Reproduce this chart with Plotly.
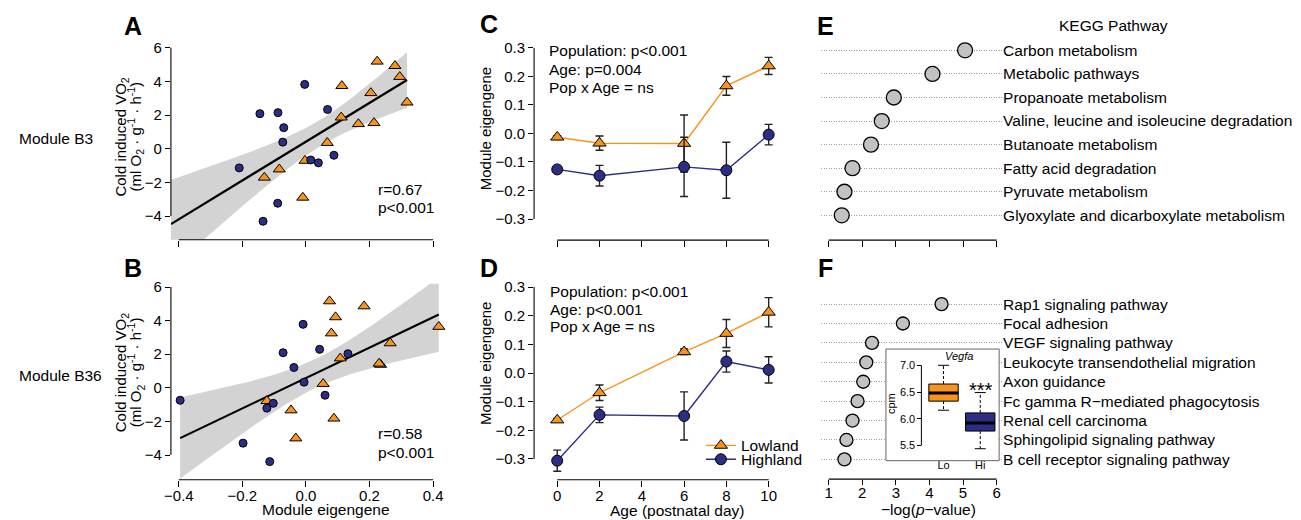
import numpy as np
import plotly.graph_objects as go

W, H = 1301, 520
OFF = 8  # the page body margin offsets the figure; positions below are page pixels
FONT = "Liberation Sans, Arial, Helvetica, sans-serif"
ORANGE = "#F7941D"
NAVY = "#2B2E83"
BAND = "#D3D3D3"
DOTFILL = "#C2C2C2"

# ---------------- Panel A (Module B3) ----------------
a_high_x = [-0.210, -0.145, -0.088, -0.070, -0.073, -0.004, 0.068, 0.015, 0.039, 0.088, -0.089, -0.135]
a_high_y = [-1.14, 2.08, 2.14, 1.25, 0.39, 3.82, 2.33, -0.67, -0.84, -0.39, -3.24, -4.31]
a_low_x = [0.224, 0.280, 0.295, 0.113, 0.204, 0.318, 0.111, 0.165, 0.214, 0.067, -0.003, -0.084, -0.131, -0.010]
a_low_y = [5.18, 4.92, 4.27, 3.73, 3.31, 2.75, 1.86, 1.47, 1.53, 0.35, -0.71, -1.22, -1.71, -2.90]
a_stats = ["r=0.67", "p&lt;0.001"]

# ---------------- Panel B (Module B36) ----------------
b_high_x = [-0.396, -0.009, -0.072, 0.043, -0.038, 0.132, -0.006, 0.060, -0.123, -0.103, -0.198, -0.114]
b_high_y = [-0.74, 3.78, 2.09, 2.29, 1.21, 2.03, 0.34, -0.44, -1.21, -0.92, -3.29, -4.39]
b_low_x = [0.074, 0.183, 0.093, 0.080, 0.108, 0.265, 0.235, 0.230, 0.418, 0.054, -0.123, -0.047, -0.032, 0.088]
b_low_y = [5.16, 4.86, 4.21, 3.25, 1.76, 2.66, 1.38, 1.45, 3.64, 0.24, -0.78, -1.33, -3.00, -1.82]
b_stats = ["r=0.58", "p&lt;0.001"]

scatter_xticks = [-0.4, -0.2, 0.0, 0.2, 0.4]
scatter_yticks = [-4, -2, 0, 2, 4, 6]
scatter_xrange = [-0.425, 0.425]

# ---------------- Panels C / D (module eigengene by age) ----------------
ages = [0, 2, 6, 8, 10]
age_ticks = [0, 2, 4, 6, 8, 10]
me_yticks = [-0.3, -0.2, -0.1, 0.0, 0.1, 0.2, 0.3]
c_low_mean = [-0.013, -0.034, -0.035, 0.167, 0.237]
c_low_err = [0.005, 0.025, 0.100, 0.033, 0.030]
c_high_mean = [-0.126, -0.148, -0.117, -0.129, -0.004]
c_high_err = [0.005, 0.036, 0.104, 0.098, 0.036]
c_stats = ["Population: p&lt;0.001", "Age: p=0.004", "Pop x Age = ns"]
d_low_mean = [-0.164, -0.069, 0.074, 0.138, 0.212]
d_low_err = [0.005, 0.027, 0.010, 0.049, 0.051]
d_high_mean = [-0.306, -0.146, -0.150, 0.040, 0.011]
d_high_err = [0.037, 0.027, 0.084, 0.037, 0.046]
d_stats = ["Population: p&lt;0.001", "Age: p&lt;0.001", "Pop x Age = ns"]

# ---------------- Panels E / F (KEGG enrichment) ----------------
kegg_e = ["Carbon metabolism", "Metabolic pathways", "Propanoate metabolism",
          "Valine, leucine and isoleucine degradation", "Butanoate metabolism",
          "Fatty acid degradation", "Pyruvate metabolism",
          "Glyoxylate and dicarboxylate metabolism"]
kegg_e_val = [5.06, 4.09, 2.94, 2.58, 2.26, 1.71, 1.47, 1.39]
kegg_f = ["Rap1 signaling pathway", "Focal adhesion", "VEGF signaling pathway",
          "Leukocyte transendothelial migration", "Axon guidance",
          "Fc gamma R\u2212mediated phagocytosis", "Renal cell carcinoma",
          "Sphingolipid signaling pathway", "B cell receptor signaling pathway"]
kegg_f_val = [4.36, 3.21, 2.29, 2.12, 2.03, 1.86, 1.71, 1.53, 1.47]
logp_ticks = [1, 2, 3, 4, 5, 6]
logp_range = [0.784, 6.163]

# ---------------- Inset (Vegfa boxplot) ----------------
vegfa_groups = ["Lo", "Hi"]
vegfa_min = [6.16, 5.44]
vegfa_q1 = [6.33, 5.77]
vegfa_med = [6.48, 5.92]
vegfa_q3 = [6.65, 6.11]
vegfa_max = [7.00, 6.49]
vegfa_colors = [ORANGE, NAVY]
cpm_ticks = [5.5, 6.0, 6.5, 7.0]


def fx(p):
    return (p - OFF) / W


def fy(p):
    return 1 - (p - OFF) / H


def px_x(a, b):
    return [fx(a), fx(b)]


def px_y(top, bottom):
    return [fy(bottom), fy(top)]


def fit_band(x, y, x0, x1):
    x = np.asarray(x, float)
    y = np.asarray(y, float)
    n = len(x)
    slope, icpt = np.polyfit(x, y, 1)
    xs = np.linspace(x0, x1, 100)
    yh = icpt + slope * xs
    resid = y - (icpt + slope * x)
    s = np.sqrt(np.sum(resid ** 2) / (n - 2))
    sxx = np.sum((x - x.mean()) ** 2)
    se = s * np.sqrt(1.0 / n + (xs - x.mean()) ** 2 / sxx)
    t = 2.0639  # t(0.975, df=24)
    return xs, yh, yh - t * se, yh + t * se


fig = go.Figure()


def add_scatter_panel(hx, hy, lx, ly, line_from, line_to, xa, ya):
    allx = list(hx) + list(lx)
    ally = list(hy) + list(ly)
    xs, yh, lo, hi = fit_band(allx, ally, line_from, line_to)
    fig.add_trace(go.Scatter(x=np.concatenate([xs, xs[::-1]]), y=np.concatenate([hi, lo[::-1]]),
                             fill="toself", fillcolor=BAND, line=dict(width=0), mode="lines",
                             hoverinfo="skip", showlegend=False, xaxis=xa, yaxis=ya))
    fig.add_trace(go.Scatter(x=xs, y=yh, mode="lines", line=dict(color="black", width=2.2),
                             showlegend=False, xaxis=xa, yaxis=ya))
    fig.add_trace(go.Scatter(x=lx, y=ly, mode="markers",
                             marker=dict(symbol="triangle-up", size=10.5, color=ORANGE,
                                         line=dict(color="black", width=1)),
                             showlegend=False, xaxis=xa, yaxis=ya, cliponaxis=False))
    fig.add_trace(go.Scatter(x=hx, y=hy, mode="markers",
                             marker=dict(symbol="circle", size=8, color=NAVY,
                                         line=dict(color="black", width=1)),
                             showlegend=False, xaxis=xa, yaxis=ya, cliponaxis=False))


all_a_x = a_high_x + a_low_x
all_b_x = b_high_x + b_low_x
add_scatter_panel(a_high_x, a_high_y, a_low_x, a_low_y, scatter_xrange[0], max(all_a_x), "x", "y")
add_scatter_panel(b_high_x, b_high_y, b_low_x, b_low_y, min(all_b_x), max(all_b_x), "x2", "y2")


def add_age_panel(lm, le, hm, he, xa, ya, legend_on):
    fig.add_trace(go.Scatter(x=ages, y=lm, mode="lines+markers", name="Lowland",
                             line=dict(color=ORANGE, width=1.4),
                             marker=dict(symbol="triangle-up", size=11.5, color=ORANGE,
                                         line=dict(color="black", width=1)),
                             error_y=dict(type="data", array=le, color="#222222", thickness=1.4, width=4),
                             showlegend=legend_on, legend="legend", xaxis=xa, yaxis=ya, cliponaxis=False))
    fig.add_trace(go.Scatter(x=ages, y=hm, mode="lines+markers", name="Highland",
                             line=dict(color=NAVY, width=1.4),
                             marker=dict(symbol="circle", size=11, color=NAVY,
                                         line=dict(color="black", width=1)),
                             error_y=dict(type="data", array=he, color="#222222", thickness=1.4, width=4),
                             showlegend=legend_on, legend="legend2", xaxis=xa, yaxis=ya, cliponaxis=False))


add_age_panel(c_low_mean, c_low_err, c_high_mean, c_high_err, "x3", "y3", False)
add_age_panel(d_low_mean, d_low_err, d_high_mean, d_high_err, "x4", "y4", True)

for names, vals, xa, ya, msize in [(kegg_e, kegg_e_val, "x5", "y5", 15), (kegg_f, kegg_f_val, "x6", "y6", 13)]:
    fig.add_trace(go.Scatter(x=vals, y=names, mode="markers",
                             marker=dict(size=msize, color=DOTFILL, line=dict(color="black", width=1.3)),
                             showlegend=False, xaxis=xa, yaxis=ya, cliponaxis=False))

# inset boxplot drawn from the summary statistics
for i, g in enumerate(vegfa_groups):
    pos = i + 1
    hw, cw = 0.4, 0.15
    fig.add_trace(go.Scatter(x=[pos, pos, None, pos, pos],
                             y=[vegfa_q3[i], vegfa_max[i], None, vegfa_q1[i], vegfa_min[i]],
                             mode="lines", line=dict(color="black", width=1, dash="3px,2px"),
                             showlegend=False, xaxis="x7", yaxis="y7"))
    fig.add_trace(go.Scatter(x=[pos - cw, pos + cw, None, pos - cw, pos + cw],
                             y=[vegfa_max[i], vegfa_max[i], None, vegfa_min[i], vegfa_min[i]],
                             mode="lines", line=dict(color="black", width=1),
                             showlegend=False, xaxis="x7", yaxis="y7"))
    fig.add_trace(go.Scatter(x=[pos - hw, pos + hw, pos + hw, pos - hw, pos - hw],
                             y=[vegfa_q1[i], vegfa_q1[i], vegfa_q3[i], vegfa_q3[i], vegfa_q1[i]],
                             mode="lines", fill="toself", fillcolor=vegfa_colors[i],
                             line=dict(color="black", width=1),
                             showlegend=False, xaxis="x7", yaxis="y7"))
    fig.add_trace(go.Scatter(x=[pos - hw, pos + hw], y=[vegfa_med[i], vegfa_med[i]],
                             mode="lines", line=dict(color="black", width=3),
                             showlegend=False, xaxis="x7", yaxis="y7"))

TICKFONT = dict(family=FONT, size=15, color="black")
SMALLFONT = dict(family=FONT, size=11, color="black")
base = dict(showline=False, showgrid=False, zeroline=False, ticks="outside", tickcolor="black",
            tickwidth=1, tickfont=TICKFONT, fixedrange=True)
cat_axis = dict(base, type="category", categoryorder="array", side="right", ticks="",
                showgrid=True, gridcolor="#A0A0A0", gridwidth=1, griddash="1px,1.5px",
                tickfont=dict(family=FONT, size=15.5, color="black"))

layout_axes = dict(
    xaxis=dict(base, domain=px_x(165, 437), range=scatter_xrange, tickvals=scatter_xticks,
               showticklabels=False, ticklen=6, anchor="y"),
    yaxis=dict(base, domain=px_y(39.6, 237), range=[-5.41, 6.2], tickvals=scatter_yticks,
               ticklen=5, anchor="x"),
    xaxis2=dict(base, domain=px_x(165, 437), range=scatter_xrange, tickvals=scatter_xticks,
                tickformat=".1f", ticklen=6, ticklabelstandoff=-4, anchor="y2"),
    yaxis2=dict(base, domain=px_y(281.3, 479.3), range=[-5.47, 6.2], tickvals=scatter_yticks,
                ticklen=5, anchor="x2"),
    xaxis3=dict(base, domain=px_x(530.7, 778), range=[-1.094, 10.52], tickvals=age_ticks,
                showticklabels=False, ticklen=6, anchor="y3"),
    yaxis3=dict(base, domain=px_y(40, 237.3), range=[-0.374, 0.3115], tickvals=me_yticks,
                tickformat=".1f", ticklen=5, anchor="x3"),
    xaxis4=dict(base, domain=px_x(530.7, 778), range=[-1.094, 10.52], tickvals=age_ticks,
                ticklen=6, ticklabelstandoff=-4, anchor="y4"),
    yaxis4=dict(base, domain=px_y(281, 479.3), range=[-0.3726, 0.3128], tickvals=me_yticks,
                tickformat=".1f", ticklen=5, anchor="x4"),
    xaxis5=dict(base, domain=px_x(820, 1002), range=logp_range, tickvals=logp_ticks,
                showticklabels=False, ticklen=6, anchor="y5"),
    yaxis5=dict(cat_axis, domain=px_y(33.8, 237.3), categoryarray=kegg_e,
                range=[len(kegg_e) + 0.05, -0.5], anchor="x5"),
    xaxis6=dict(base, domain=px_x(820, 1002), range=logp_range, tickvals=logp_ticks,
                ticklen=5, ticklabelstandoff=-5, anchor="y6"),
    yaxis6=dict(cat_axis, domain=px_y(292.1, 478.7), categoryarray=kegg_f,
                range=[len(kegg_f) + 0.02, -0.5], anchor="x6"),
    xaxis7=dict(base, domain=px_x(885, 999), range=[-0.568, 2.514], tickvals=[1, 2],
                ticktext=vegfa_groups, ticks="", tickfont=SMALLFONT, ticklabelstandoff=-4,
                anchor="y7"),
    yaxis7=dict(base, domain=px_y(347.3, 460), range=[5.217, 7.304], tickvals=cpm_ticks,
                tickformat=".1f", ticklen=4, tickfont=SMALLFONT,
                anchor="free", position=fx(920.7)),
)

# axis lines spanning first to last tick (base-R style)
LINE = dict(color="black", width=1.1)
shapes = []
for xa, ya, xt, yt in [("x", "y", scatter_xticks, scatter_yticks),
                       ("x2", "y2", scatter_xticks, scatter_yticks),
                       ("x3", "y3", age_ticks, me_yticks),
                       ("x4", "y4", age_ticks, me_yticks)]:
    shapes.append(dict(type="line", xref=xa, yref=ya + " domain", x0=min(xt), x1=max(xt), y0=0, y1=0,
                       line=LINE, layer="above"))
    shapes.append(dict(type="line", xref=xa + " domain", yref=ya, x0=0, x1=0, y0=min(yt), y1=max(yt),
                       line=LINE, layer="above"))
for xa, ya in [("x5", "y5"), ("x6", "y6")]:
    shapes.append(dict(type="line", xref=xa, yref=ya + " domain", x0=min(logp_ticks), x1=max(logp_ticks),
                       y0=0, y1=0, line=LINE, layer="above"))
shapes.append(dict(type="line", xref="paper", yref="y7", x0=fx(920.7), x1=fx(920.7),
                   y0=min(cpm_ticks), y1=max(cpm_ticks), line=dict(color="black", width=1), layer="above"))
shapes.append(dict(type="rect", xref="x7 domain", yref="y7 domain", x0=0, x1=1, y0=0, y1=1,
                   line=dict(color="#666666", width=1), layer="above"))


def ann(text, x, y, size=15.5, xanchor="center", yanchor="middle", angle=0, color="black"):
    return dict(text=text, x=fx(x), y=fy(y), xref="paper", yref="paper", showarrow=False,
                xanchor=xanchor, yanchor=yanchor, textangle=angle,
                font=dict(family=FONT, size=size, color=color))


anns = []
for letter, x, y in [("A", 127, 21), ("B", 126.5, 265), ("C", 485, 19), ("D", 485, 265),
                     ("E", 824.5, 21.5), ("F", 824, 265)]:
    anns.append(ann("<b>" + letter + "</b>", x, y, size=25))
anns.append(ann("KEGG Pathway", 1114, 21))
anns.append(ann("Module B3", 10, 135, xanchor="left"))
anns.append(ann("Module B36", 10, 374, xanchor="left"))
for yc in [133, 371]:
    anns.append(ann("Cold induced VO<sub>2</sub>", 115.5, yc, size=15, angle=-90))
    anns.append(ann("(ml O<sub>2</sub> \u00b7 g<sup>-1</sup> \u00b7 h<sup>-1</sup>)", 129.5, yc, size=15, angle=-90))
anns.append(ann("Module eigengene", 481.7, 125, size=15, angle=-90))
anns.append(ann("Module eigengene", 481.7, 362, size=15, angle=-90))
anns.append(ann("Module eigengene", 321, 509))
anns.append(ann("Age (postnatal day)", 674.7, 510))
anns.append(ann("\u2212log(<i>p</i>\u2212value)", 928, 509))
for i, t in enumerate(a_stats):
    anns.append(ann(t, 371.7, [186.7, 204.3][i], xanchor="left"))
for i, t in enumerate(b_stats):
    anns.append(ann(t, 371.7, [432.7, 452][i], xanchor="left"))
for i, t in enumerate(c_stats):
    anns.append(ann(t, 543.3, [46, 65, 83][i], xanchor="left"))
for i, t in enumerate(d_stats):
    anns.append(ann(t, 545, [289, 307.3, 325][i], xanchor="left"))
anns.append(ann("<i>Vegfa</i>", 959, 354, size=11))
anns.append(ann("***", 980.5, 389, size=20))
anns.append(ann("cpm", 890, 402, size=11, angle=-90))

legend_style = dict(xanchor="left", yanchor="middle", bgcolor="rgba(0,0,0,0)", borderwidth=0,
                    font=dict(family=FONT, size=15.5, color="black"), itemwidth=30, tracegroupgap=0)

fig.update_layout(
    width=W, height=H, margin=dict(l=0, r=0, t=0, b=0),
    paper_bgcolor="white", plot_bgcolor="white",
    font=dict(family=FONT, size=15, color="black"),
    showlegend=True,
    legend=dict(legend_style, x=fx(698.7), y=fy(445)),
    legend2=dict(legend_style, x=fx(698.7), y=fy(459)),
    shapes=shapes, annotations=anns, hovermode=False,
    **layout_axes,
)

fig.write_html("out.html")
